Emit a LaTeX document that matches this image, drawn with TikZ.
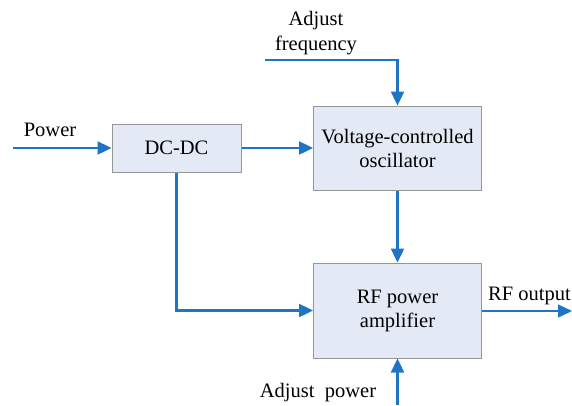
\documentclass[tikz,border=0pt]{standalone}
\usepackage{fontspec}
\setmainfont{Liberation Serif}
\usetikzlibrary{arrows.meta}
\definecolor{linkblue}{RGB}{32,116,196}
\definecolor{boxfill}{RGB}{228,234,245}
\definecolor{boxline}{RGB}{150,150,150}
\begin{document}
\begin{tikzpicture}[x=1pt, y=-1pt,
        block/.style={draw=boxline, fill=boxfill, line width=1pt, inner sep=0pt, align=center, font=\fontsize{20.5}{24}\selectfont},
        lbl/.style={inner sep=0pt, align=center, font=\fontsize{20.5}{25}\selectfont},
        link/.style={draw=linkblue, line width=2.4pt, -{Triangle[length=14pt,width=13pt]}}]
    \useasboundingbox (0,0) rectangle (572,405);
    % blocks
    \node[block, minimum width=129pt, minimum height=48pt] (dcdc) at (176.5, 148) {DC-DC};
    \node[block, minimum width=168pt, minimum height=84pt] (vco) at (397.5, 148) {Voltage-controlled\\oscillator};
    \node[block, minimum width=168pt, minimum height=95pt] (rfamp) at (397.5, 310.5) {RF power\\amplifier};
    % labels
    \node[lbl] (power) at (50, 130) {Power};
    \node[lbl] (adjfreq) at (316, 33) {Adjust\\frequency};
    \node[lbl, anchor=east] (rfout) at (571, 296) {RF output};
    \node[lbl] (adjpow) at (318, 393) {Adjust\ \ power};
    % free ends
    \coordinate (pin) at (13, 148);
    \coordinate (fin) at (265, 60);
    \coordinate (pwin) at (397.5, 405);
    \coordinate (rfend) at (572, 311);
    % connectors
    \draw[link] (pin) -- (dcdc);
    \draw[link] (dcdc) -- (vco);
    \draw[link] (fin) -| (vco);
    \draw[link] (vco) -- (rfamp);
    \draw[link] (dcdc.south) |- (rfamp);
    \draw[link, line width=1.5pt] (rfamp.east |- rfend) -- (rfend);
    \draw[link] (pwin) -- (rfamp);
\end{tikzpicture}
\end{document}
